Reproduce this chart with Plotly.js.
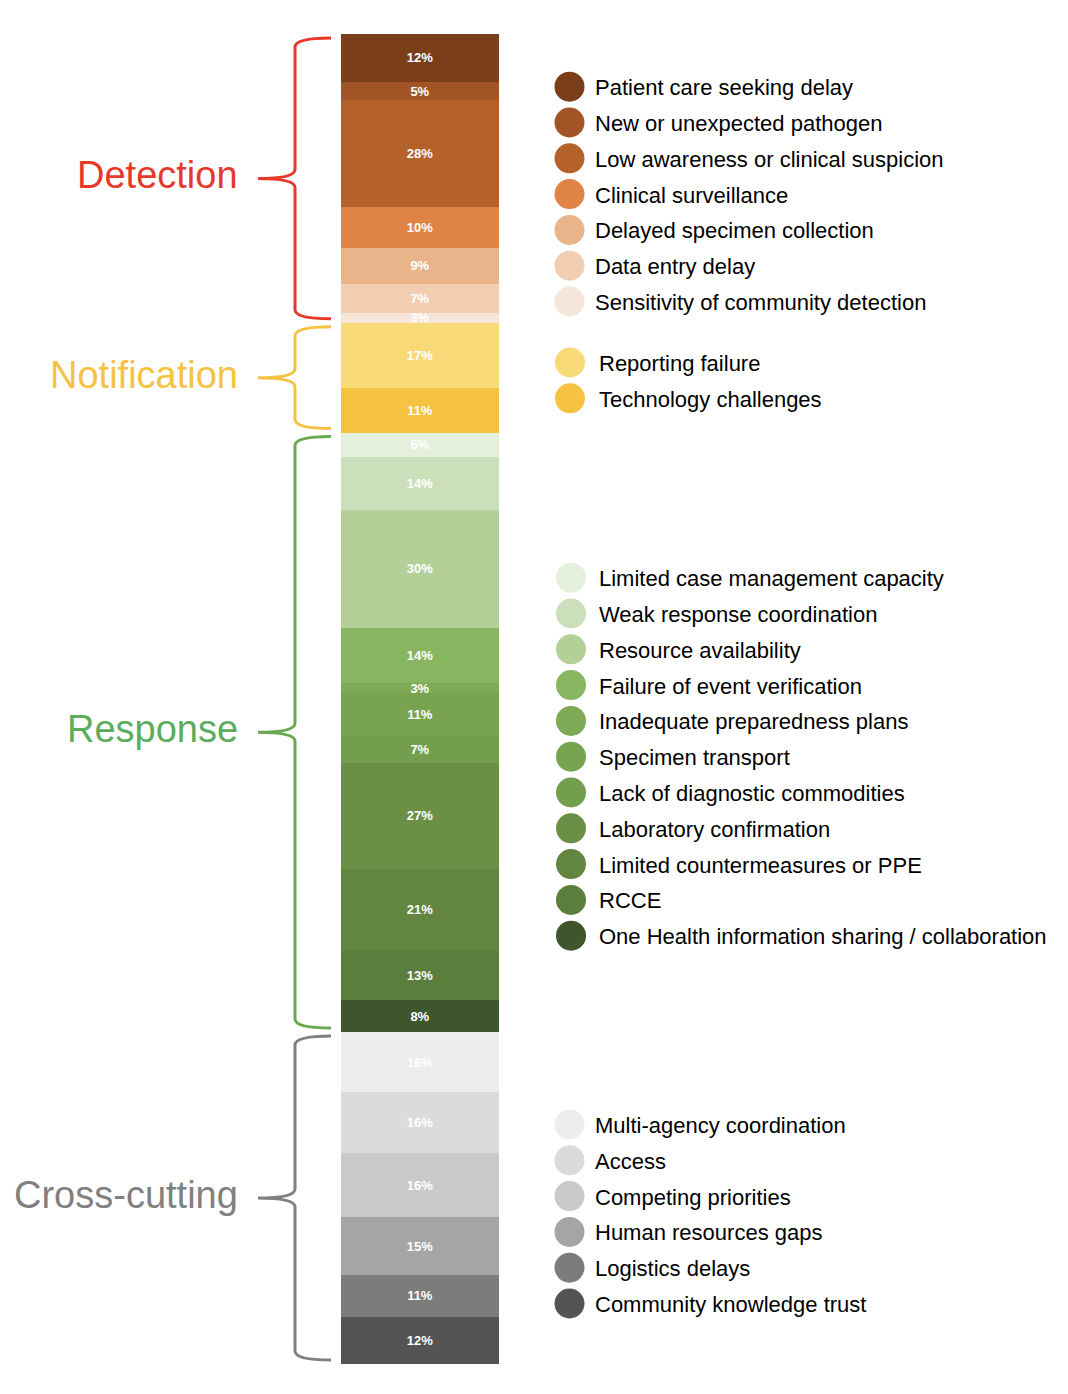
<!DOCTYPE html>
<html>
<head>
<meta charset="utf-8">
<script src="https://cdn.plot.ly/plotly-3.0.1.min.js"></script>
<style>html,body{margin:0;padding:0;background:#fff;}</style>
</head>
<body>
<div id="chart" style="width:1068px;height:1394px;"></div>
<script>
// ---------------- DATA ----------------
const groupNames = ['Detection', 'Notification', 'Response', 'Cross-cutting'];

const detectionCategories = ['Patient care seeking delay', 'New or unexpected pathogen', 'Low awareness or clinical suspicion',
  'Clinical surveillance', 'Delayed specimen collection', 'Data entry delay', 'Sensitivity of community detection'];
const detectionValues = [12.3, 4.7, 27.5, 10.4, 9.3, 7.4, 2.6];

const notificationCategories = ['Reporting failure', 'Technology challenges'];
const notificationValues = [16.8, 11.4];

const responseCategories = ['Limited case management capacity', 'Weak response coordination', 'Resource availability',
  'Failure of event verification', 'Inadequate preparedness plans', 'Specimen transport', 'Lack of diagnostic commodities',
  'Laboratory confirmation', 'Limited countermeasures or PPE', 'RCCE', 'One Health information sharing / collaboration'];
const responseValues = [6.2, 13.6, 30.4, 14.2, 2.6, 11.0, 6.8, 27.3, 21.1, 12.6, 8.2];

const crossCategories = ['Multi-agency coordination', 'Access', 'Competing priorities', 'Human resources gaps',
  'Logistics delays', 'Community knowledge trust'];
const crossValues = [15.5, 15.7, 16.4, 14.9, 10.6, 12.2];

// ---------------- STYLE ----------------
const detectionColors = ['#7A3E1B', '#A35426', '#B5612B', '#E08445', '#EAB48A', '#F1CEB2', '#F6E5D9'];
const notificationColors = ['#F8D978', '#F5C242'];
const responseColors = ['#E4EFDC', '#CADFBA', '#B2D097', '#88B55F', '#7EAA55', '#78A452', '#729E4D',
  '#6A9046', '#628641', '#5A7E3C', '#3F552B'];
const crossColors = ['#EDEDED', '#DBDBDB', '#C9C9C9', '#A5A5A5', '#7C7C7C', '#545454'];
const groupTextColors = ['#E8382B', '#F5C242', '#5BAD5D', '#808080'];
const groupBracketColors = ['#E8382B', '#F5C242', '#6AA84F', '#808080'];

const FONT = 'Liberation Sans, Arial, Helvetica, sans-serif';
const W = 1068, H = 1394;
const barTopPx = 34, barBottomPx = 1364, barLeftPx = 341, barRightPx = 499;
const legendLayout = [
  {start: 86.7, markerX: 569.5, textX: 593},
  {start: 362.5, markerX: 570, textX: 597},
  {start: 577.7, markerX: 571, textX: 597},
  {start: 1124.5, markerX: 569.5, textX: 593}
];
const legendStep = 35.8;
const bracket = {tipX: 331, spineX: 295, pointX: 258, inset: 4, r: 9, width: 3};
const groupLabelX = 240;

const groups = [
  {cats: detectionCategories, vals: detectionValues, cols: detectionColors},
  {cats: notificationCategories, vals: notificationValues, cols: notificationColors},
  {cats: responseCategories, vals: responseValues, cols: responseColors},
  {cats: crossCategories, vals: crossValues, cols: crossColors}
];

// ---------------- SCALES ----------------
const total = groups.reduce((s, g) => s + g.vals.reduce((a, b) => a + b, 0), 0);
const pxPerUnit = (barBottomPx - barTopPx) / total;
const yTop = -barTopPx / pxPerUnit;
const yBottom = yTop + H / pxPerUnit;
const px = p => p / pxPerUnit; // pixel length -> data length

// ---------------- TRACES ----------------
const traces = [];
const shapes = [];
const annotations = [];
let cum = 0;
groups.forEach((g, gi) => {
  const start = cum;
  g.vals.forEach((v, i) => {
    traces.push({
      type: 'bar', x: ['share'], y: [v], name: g.cats[i],
      marker: {color: g.cols[i], line: {width: 0}},
      text: [Math.round(v) + '%'], textposition: 'inside', insidetextanchor: 'middle', textangle: 0,
      textfont: {color: '#ffffff', size: 13, family: FONT, weight: 'bold'},
      showlegend: false, hoverinfo: 'skip', xaxis: 'x', yaxis: 'y'
    });
    cum += v;
  });
  const end = cum;

  // bracket (curly brace) spanning the group
  const yt = start + px(bracket.inset), yb = end - px(bracket.inset), ym = (yt + yb) / 2;
  const r = px(bracket.r);
  const b = bracket;
  const path = `M ${b.tipX},${yt} Q ${b.spineX},${yt} ${b.spineX},${yt + r} L ${b.spineX},${ym - r} ` +
    `Q ${b.spineX},${ym} ${b.pointX},${ym} Q ${b.spineX},${ym} ${b.spineX},${ym + r} ` +
    `L ${b.spineX},${yb - r} Q ${b.spineX},${yb} ${b.tipX},${yb}`;
  shapes.push({type: 'path', xref: 'x2', yref: 'y', path: path,
    line: {color: groupBracketColors[gi], width: b.width}});

  annotations.push({xref: 'x2', yref: 'y', x: groupLabelX, y: ym, xanchor: 'right', yanchor: 'middle',
    yshift: 3, showarrow: false, text: groupNames[gi],
    font: {family: FONT, size: 38, color: groupTextColors[gi]}});

  // custom legend
  const L = legendLayout[gi];
  const ys = g.cats.map((c, i) => L.start + i * legendStep);
  traces.push({
    type: 'scatter', mode: 'markers', x: g.cats.map(() => L.markerX), y: ys,
    marker: {size: 30, color: g.cols, line: {width: 0}},
    showlegend: false, hoverinfo: 'skip', xaxis: 'x2', yaxis: 'y2', cliponaxis: false
  });
  g.cats.forEach((c, i) => {
    annotations.push({xref: 'x2', yref: 'y2', x: L.textX, y: ys[i], xanchor: 'left', yanchor: 'middle',
      yshift: -1, showarrow: false, text: c, font: {family: FONT, size: 22, color: '#000000'}});
  });
});

const layout = {
  width: W, height: H, autosize: false,
  margin: {l: 0, r: 0, t: 0, b: 0, pad: 0},
  paper_bgcolor: '#ffffff', plot_bgcolor: 'rgba(0,0,0,0)',
  barmode: 'stack', bargap: 0,
  showlegend: false, hovermode: false,
  uniformtext: {mode: 'show', minsize: 13},
  xaxis: {type: 'category', domain: [barLeftPx / W, barRightPx / W], range: [-0.5, 0.5], visible: false, fixedrange: true},
  yaxis: {domain: [0, 1], range: [yBottom, yTop], visible: false, fixedrange: true},
  xaxis2: {domain: [0, 1], range: [0, W], visible: false, anchor: 'y2', fixedrange: true},
  yaxis2: {domain: [0, 1], range: [H, 0], visible: false, anchor: 'x2', fixedrange: true},
  shapes: shapes,
  annotations: annotations,
  font: {family: FONT}
};

Plotly.newPlot('chart', traces, layout, {displayModeBar: false, staticPlot: true});
</script>
</body>
</html>
